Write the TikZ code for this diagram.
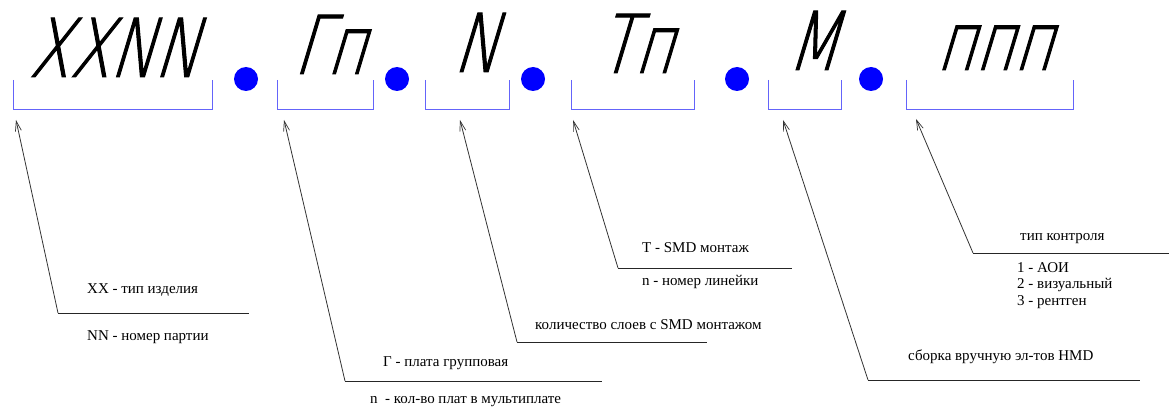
\documentclass[tikz,border=0pt]{standalone}
\usepackage{fontspec}
\setmainfont{Liberation Serif}
\newfontfamily\gostfont[FakeSlant=0.3, FakeStretch=0.73, FakeBold=1.2]{DejaVu Sans ExtraLight}
\usepackage{xcolor}
\usepackage{tikz}
\usetikzlibrary{arrows.meta, positioning, calc}

\definecolor{brk}{RGB}{100,100,250}

\begin{document}
\begin{tikzpicture}[
  x=1pt, y=-1pt,
  bracket/.style={draw=brk, line width=1pt},
  sep/.style={circle, fill=blue, inner sep=0pt, minimum size=24pt},
  code/.style={font=\gostfont\fontsize{81}{81}\selectfont, anchor=base, inner sep=0pt},
  note/.style={font=\fontsize{15}{16.5}\selectfont, anchor=west, inner sep=0pt, align=left},
  lead/.style={draw=black!80, line width=0.8pt,
               -{Straight Barb[length=10pt, width=6pt, line width=0.7pt]}},
  shelf/.style={draw=black!85, line width=0.8pt},
]
\useasboundingbox (0,0) rectangle (1169,409);

% brackets under the code groups
\draw[bracket] (13,80) |- (212,110) -- (212,80);
\draw[bracket] (277,80) |- (373,110) -- (373,80);
\draw[bracket] (425,80) |- (509,110) -- (509,80);
\draw[bracket] (571,80) |- (694,110) -- (694,80);
\draw[bracket] (768,80) |- (841,110) -- (841,80);
\draw[bracket] (906,80) |- (1073,110) -- (1073,80);

% code groups
\node[code] (xxnn) at (113,77) {XXNN};
\node[code] (gn)   at (329,74) {Гп};
\node[code] (nn)   at (475,72) {N};
\node[code] (tn)   at (635,73) {Тп};
\node[code] (mm)   at (812,70) {М};
\node[code] (nnn)  at (994,70) {ппп};

% separating dots
\node[sep] (s1) at (246,79) {};
\node[sep] (s2) at (397,79) {};
\node[sep] (s3) at (533,79) {};
\node[sep] (s4) at (737,79) {};
\node[sep] (s5) at (871,79) {};

% arrow tips, knees and shelf ends
\coordinate (t1) at (16,120);  \coordinate (k1) at (58,313);  \coordinate (e1) at (249,313);
\coordinate (t2) at (284,120); \coordinate (k2) at (345,381); \coordinate (e2) at (602,381);
\coordinate (t3) at (460,120); \coordinate (k3) at (517,342); \coordinate (e3) at (707,342);
\coordinate (t4) at (573,120); \coordinate (k4) at (618,268); \coordinate (e4) at (792,268);
\coordinate (t5) at (783,120); \coordinate (k5) at (868,380); \coordinate (e5) at (1140,380);
\coordinate (t6) at (916,119); \coordinate (k6) at (973,253); \coordinate (e6) at (1169,253);

\foreach \i in {1,...,6} {
  \draw[lead] (k\i) -- (t\i);
  \draw[shelf] (k\i) -- (e\i);
}

% notes
\node[note] (xx)   at (87,290)   {XX - тип изделия};
\node[note] (part) at (87,337)   {NN - номер партии};
\node[note] (grp)  at (383,363)  {Г - плата групповая};
\node[note] (mult) at (370,402)  {n~ - кол-во плат в мультиплате};
\node[note] (lay)  at (535,325)  {количество слоев с SMD монтажом};
\node[note] (smd)  at (642,248)  {Т - SMD монтаж};
\node[note] (line) at (642,282)  {n - номер линейки};
\node[note] (hmd)  at (908,357)  {сборка вручную эл-тов HMD};
\node[note] (ctl)  at (1020,239) {тип контроля};
\node[note, anchor=north west] (kind) at (1017,262) {1 - АОИ\\2 - визуальный\\3 - рентген};
\end{tikzpicture}
\end{document}
